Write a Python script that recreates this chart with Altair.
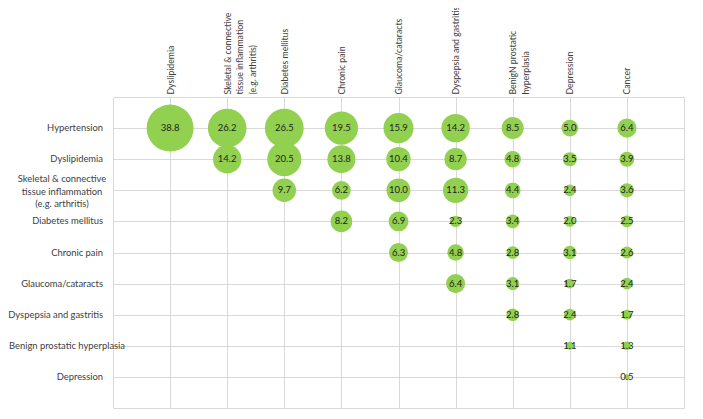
import altair as alt
import pandas as pd

# Column (top) categories
cols = [
    "Dyslipidemia",
    "Skeletal & connective\ntissue inflammation\n(e.g. arthritis)",
    "Diabetes mellitus",
    "Chronic pain",
    "Glaucoma/cataracts",
    "Dyspepsia and gastritis",
    "BenigN prostatic\nhyperplasia",
    "Depression",
    "Cancer",
]

# Row (left) categories
rows = [
    "Hypertension",
    "Dyslipidemia",
    "Skeletal & connective\ntissue inflammation\n(e.g. arthritis)",
    "Diabetes mellitus",
    "Chronic pain",
    "Glaucoma/cataracts",
    "Dyspepsia and gastritis",
    "Benign prostatic hyperplasia",
    "Depression",
]

# Values per row; each row's values fill the last columns of the matrix
hypertension = [38.8, 26.2, 26.5, 19.5, 15.9, 14.2, 8.5, 5.0, 6.4]
dyslipidemia = [14.2, 20.5, 13.8, 10.4, 8.7, 4.8, 3.5, 3.9]
skeletal = [9.7, 6.2, 10.0, 11.3, 4.4, 2.4, 3.6]
diabetes = [8.2, 6.9, 2.3, 3.4, 2.0, 2.5]
chronic_pain = [6.3, 4.8, 2.8, 3.1, 2.6]
glaucoma = [6.4, 3.1, 1.7, 2.4]
dyspepsia = [2.8, 2.4, 1.7]
bph = [1.1, 1.3]
depression = [0.5]

row_values = [hypertension, dyslipidemia, skeletal, diabetes, chronic_pain,
              glaucoma, dyspepsia, bph, depression]

records = []
for r, vals in zip(rows, row_values):
    start = len(cols) - len(vals)
    for j, v in enumerate(vals):
        records.append({"row": r, "col": cols[start + j], "value": v})
df = pd.DataFrame(records)

# Row label groups: plain right-aligned, wrapped (centred) and overflowing (centred)
row_df = pd.DataFrame({
    "row": rows,
    "kind": ["wrap" if "\n" in r else ("long" if r == rows[7] else "plain") for r in rows],
})

FONT = "Lato"
GRID = "#d9d9d9"
LABEL_COLOR = "#404040"
LFS = 9.4
TFS = 8.7

x_enc = alt.X(
    "col:N", sort=cols,
    scale=alt.Scale(type="point", padding=1),
    axis=alt.Axis(
        orient="top", title=None, ticks=False, domain=False, grid=True,
        gridColor=GRID, labelAngle=270, labelAlign="left", labelBaseline="middle",
        labelPadding=3, labelLimit=0, labelFont=FONT, labelFontSize=TFS,
        labelColor=LABEL_COLOR, labelLineHeight=12.5,
        labelExpr="split(datum.label, '\\n')",
    ),
)
y_enc = alt.Y(
    "row:N", sort=rows,
    scale=alt.Scale(type="point", padding=1),
    axis=alt.Axis(title=None, ticks=False, domain=False, labels=False,
                  grid=True, gridColor=GRID),
)

bubbles = alt.Chart(df).mark_circle(color="#92D050", opacity=1).encode(
    x=x_enc,
    y=y_enc,
    size=alt.Size("value:Q", scale=alt.Scale(domain=[0, 38.8], range=[0, 2206]), legend=None),
)

texts = alt.Chart(df).mark_text(font=FONT, fontSize=9.5, color="#1f1f1f").encode(
    x=alt.X("col:N", sort=cols),
    y=alt.Y("row:N", sort=rows),
    text=alt.Text("value:Q", format=".1f"),
)


def row_layer(kind, align, xpos, dy):
    return alt.Chart(row_df).transform_filter(
        alt.datum.kind == kind
    ).mark_text(font=FONT, fontSize=LFS, color=LABEL_COLOR, align=align,
                baseline="middle", lineBreak="\n", lineHeight=12.5, dy=dy).encode(
        x=alt.value(xpos),
        y=alt.Y("row:N", sort=rows),
        text="row:N",
    )


chart = alt.layer(
    bubbles, texts,
    row_layer("plain", "right", -10, 0),
    row_layer("wrap", "center", -51, -11),
    row_layer("long", "center", -46, 0),
).properties(
    width=571,
    height=311,
    autosize=alt.AutoSizeParams(type="none"),
    padding={"left": 105, "top": 89, "right": 10, "bottom": 5},
).configure_view(stroke=GRID, strokeWidth=1)

chart.save("out.html", embed_options={"renderer": "svg", "actions": False})
